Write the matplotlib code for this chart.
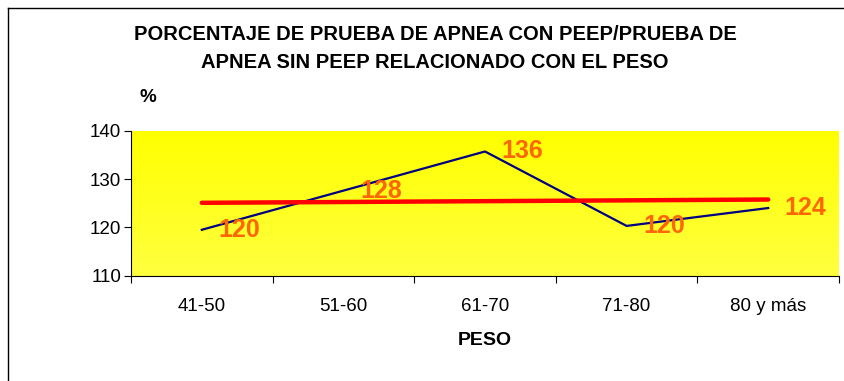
import numpy as np
import matplotlib
matplotlib.use('Agg')
from matplotlib import pyplot as plt
from matplotlib.lines import Line2D

plt.rcParams['font.family'] = ['Liberation Sans', 'DejaVu Sans']

categorias = ['41-50', '51-60', '61-70', '71-80', '80 y más']
porcentaje = [119.5, 127.6, 135.7, 120.3, 124.0]
y_ticks = [110, 120, 130, 140]

x = np.arange(len(categorias))

fig = plt.figure(figsize=(8.45, 3.81), dpi=100)
ax = fig.add_axes([131/845, 1 - 275.7/381, (839 - 131)/845, (275.7 - 130.7)/381])

# fondo amarillo con un degradado suave
grad = np.linspace(0, 1, 256).reshape(-1, 1)
cmap = matplotlib.colors.LinearSegmentedColormap.from_list('amarillo', ['#ffff00', '#ffff40'])
ax.imshow(grad, aspect='auto', cmap=cmap, extent=[0, 1, 0, 1], transform=ax.transAxes, zorder=0)

ax.plot(x, porcentaje, color='#000080', linewidth=1.6, zorder=3)

# linea de tendencia
m, b = np.polyfit(x, porcentaje, 1)
ax.plot(x, m * x + b, color='#ff0000', linewidth=3.2, solid_capstyle='round', zorder=4)

for xi, yi in zip(x, porcentaje):
    ax.annotate('%.0f' % yi, (xi, yi), xytext=(12, 0), textcoords='offset points',
                ha='left', va='center', color='#ff6600', fontsize=18, fontweight='bold', zorder=5)

ax.set_xlim(-0.5, len(categorias) - 0.5)
ax.set_ylim(110, 140)
ax.set_yticks(y_ticks)
ax.set_xticks(np.arange(len(categorias) + 1) - 0.5)
ax.set_xticklabels([])
ax.set_xticks(x, minor=True)
ax.set_xticklabels(categorias, minor=True, fontsize=13.5)
ax.tick_params(axis='x', which='minor', length=0, pad=16)
ax.tick_params(axis='x', which='major', length=5, direction='out', width=0.8)
ax.tick_params(axis='y', length=5, direction='out', width=0.8, labelsize=13.5, pad=2)
ax.spines['top'].set_visible(False)
ax.spines['right'].set_visible(False)
ax.spines['left'].set_linewidth(0.8)
ax.spines['bottom'].set_linewidth(0.8)

fig.text(435/845, 1 - 34/381, 'PORCENTAJE DE PRUEBA DE APNEA CON PEEP/PRUEBA DE',
         ha='center', va='center', fontsize=14.5, fontweight='bold')
fig.text(435/845, 1 - 62/381, 'APNEA SIN PEEP RELACIONADO CON EL PESO',
         ha='center', va='center', fontsize=14.5, fontweight='bold')
fig.text(147.5/845, 1 - 97/381, '%', ha='center', va='center', fontsize=13.5, fontweight='bold')
fig.text(485/845, 1 - 340.5/381, 'PESO', ha='center', va='center', fontsize=14, fontweight='bold')

# marco del grafico
fig.add_artist(Line2D([8/845, 8/845], [0, 1 - 8/381], color='black', linewidth=1.0))
fig.add_artist(Line2D([8/845, 1], [1 - 8/381, 1 - 8/381], color='black', linewidth=1.0))

fig.savefig('out.png', dpi=100)
